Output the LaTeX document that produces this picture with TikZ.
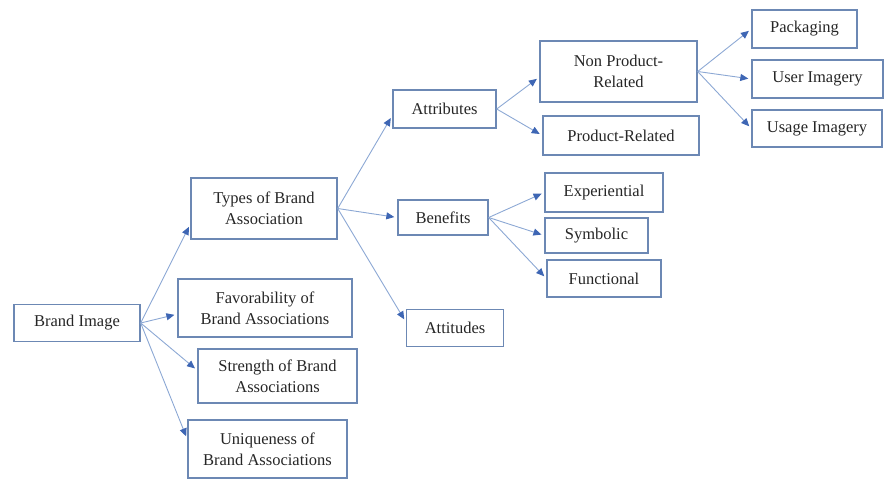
\documentclass[tikz,border=0pt]{standalone}
\usepackage{fontspec}
\setmainfont{Liberation Serif}
\usetikzlibrary{arrows.meta}
\definecolor{boxline}{RGB}{108,136,180}
\definecolor{linkline}{RGB}{140,168,212}
\definecolor{tipblue}{RGB}{62,102,180}
\definecolor{inktext}{RGB}{38,38,38}
\begin{document}
\begin{tikzpicture}[x=1pt,y=-1pt,
    box/.style={draw=boxline,line width=1.4pt,inner sep=0pt,align=center,
      text=inktext,font=\fontsize{16.5}{21}\selectfont},
    link/.style={draw=linkline,line width=0.9pt,shorten >=3pt,
      -{Triangle[length=8pt,width=7pt,color=tipblue]}}]
  \useasboundingbox (0,0) rectangle (884,480);

  \node[box,minimum width=126,minimum height=37] (img) at (77,323) {Brand Image};
  \node[box,minimum width=146,minimum height=61] (types) at (264,208.5) {Types of Brand\\Association};
  \node[box,minimum width=174,minimum height=58] (fav) at (265,308) {Favorability of\\Brand Associations};
  \node[box,minimum width=159,minimum height=54] (str) at (277.5,376) {Strength of Brand\\Associations};
  \node[box,minimum width=159,minimum height=58] (uniq) at (267.5,449) {Uniqueness of\\Brand Associations};

  \node[box,minimum width=103,minimum height=38] (attr) at (444.5,109) {Attributes};
  \node[box,minimum width=90,minimum height=35] (benef) at (443,217.5) {Benefits};
  \node[box,minimum width=97,minimum height=37] (attit) at (455,328) {Attitudes};

  \node[box,minimum width=157,minimum height=61] (nonprod) at (618.5,71.5) {Non Product-\\Related};
  \node[box,minimum width=156,minimum height=39] (prod) at (621,135.5) {Product-Related};
  \node[box,minimum width=118,minimum height=39] (exper) at (604,192.5) {Experiential};
  \node[box,minimum width=103,minimum height=35] (symb) at (596.5,235.5) {Symbolic};
  \node[box,minimum width=114,minimum height=37] (func) at (604,278.5) {Functional};

  \node[box,minimum width=105,minimum height=38] (pack) at (804.5,29) {Packaging};
  \node[box,minimum width=131,minimum height=38] (user) at (817.5,79) {User Imagery};
  \node[box,minimum width=130,minimum height=37] (usage) at (817,128.5) {Usage Imagery};

  \draw[link] (img.east) -- (types.192);
  \draw[link] (img.east) -- (fav.184);
  \draw[link] (img.east) -- (str.176);
  \draw[link] (img.east) -- (uniq.173);

  \draw[link] (types.east) -- (attr.187);
  \draw[link] (types.east) -- (benef.west);
  \draw[link] (types.east) -- (attit.173);

  \draw[link] (attr.east) -- (nonprod.184);
  \draw[link] (attr.east) -- (prod.west);
  \draw[link] (benef.east) -- (exper.west);
  \draw[link] (benef.east) -- (symb.west);
  \draw[link] (benef.east) -- (func.west);

  \draw[link] (nonprod.east) -- (pack.west);
  \draw[link] (nonprod.east) -- (user.west);
  \draw[link] (nonprod.east) -- (usage.west);
\end{tikzpicture}
\end{document}
